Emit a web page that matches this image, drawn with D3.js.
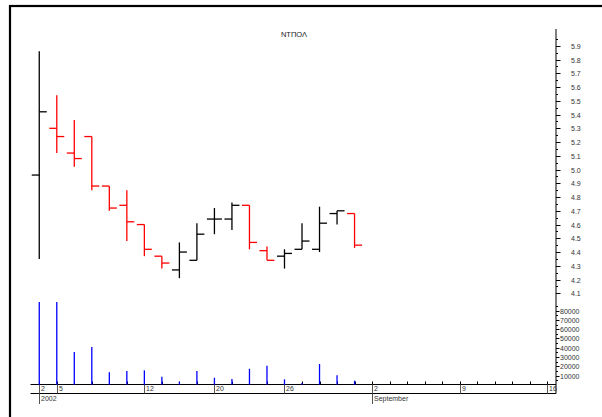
<!DOCTYPE html>
<html>
<head>
<meta charset="utf-8">
<script src="https://cdn.jsdelivr.net/npm/d3@7"></script>
<style>
  html, body { margin: 0; padding: 0; background: #fff; }
  svg { display: block; }
  text { font-family: "Liberation Sans", Arial, sans-serif; }
</style>
</head>
<body>
<svg id="chart" width="602" height="417"></svg>
<script>
// ---- Data ----
const title = "ΝΤΠΟΛ";
const dates = ["2002-08-02","2002-08-05","2002-08-06","2002-08-07","2002-08-08","2002-08-09",
  "2002-08-12","2002-08-13","2002-08-14","2002-08-16","2002-08-20","2002-08-21","2002-08-22",
  "2002-08-23","2002-08-26","2002-08-27","2002-08-28","2002-08-29","2002-08-30"];
const open  = [4.96,5.30,5.12,5.24,4.88,4.74,4.60,4.37,4.27,4.34,4.64,4.64,4.74,4.41,4.37,4.42,4.42,4.68,4.68];
const high  = [5.86,5.54,5.36,5.24,4.88,4.85,4.60,4.37,4.47,4.61,4.72,4.76,4.74,4.44,4.42,4.61,4.73,4.70,4.68];
const low   = [4.35,5.12,5.02,4.85,4.70,4.48,4.37,4.28,4.21,4.34,4.53,4.56,4.42,4.34,4.28,4.42,4.40,4.60,4.43];
const close = [5.42,5.24,5.08,4.88,4.72,4.62,4.42,4.32,4.40,4.53,4.64,4.74,4.47,4.34,4.39,4.48,4.61,4.70,4.45];
const volume = [89500,89500,35300,40700,13500,14900,15600,8700,3300,14900,7600,6200,17300,20600,5900,1900,22400,10200,4400];
// x-axis: trading-day slots (index), labels at week starts
const dayLabels = [{i:0,t:"2"},{i:1,t:"5"},{i:6,t:"12"},{i:10,t:"20"},{i:14,t:"26"},{i:19,t:"2"},{i:24,t:"9"},{i:29,t:"16"}];
const periodLabels = [{i:0,t:"2002"},{i:19,t:"September"}];
const nSlots = 30;
const priceTicks = [4.1,4.2,4.3,4.4,4.5,4.6,4.7,4.8,4.9,5.0,5.1,5.2,5.3,5.4,5.5,5.6,5.7,5.8,5.9];
const volTicks = [10000,20000,30000,40000,50000,60000,70000,80000];

// ---- Chart ----
const svg = d3.select("#chart");
const axisX0 = 30.5, axisX1 = 556;
const axisY = 384.5, axisY2 = 393.5;

const x = d3.scaleLinear().domain([-0.5, nSlots - 0.5]).range([axisX0, axisX1]);
const y = d3.scaleLinear().domain([4.1, 5.9]).range([293.3, 45.8]);
const yv = d3.scaleLinear().domain([0, 80000]).range([384.8, 310.7]);

// frame
svg.append("rect").attr("x", 10).attr("y", 6).attr("width", 620).attr("height", 440)
  .attr("fill", "none").attr("stroke", "#000").attr("stroke-width", 2.2);

// title
svg.append("text").attr("x", 294).attr("y", 37).attr("text-anchor", "middle")
  .attr("font-size", 7.5).attr("fill", "#222").text(title);

// right axis line
svg.append("line").attr("x1", axisX1).attr("x2", axisX1).attr("y1", 29).attr("y2", axisY2)
  .attr("stroke", "#000").attr("stroke-width", 1);

// price ticks
const pMinor = d3.range(4.15, 5.96, 0.1);
svg.append("g").selectAll("line").data(pMinor).join("line")
  .attr("x1", axisX1).attr("x2", axisX1 + 2)
  .attr("y1", d => Math.round(y(d)) + 0.5).attr("y2", d => Math.round(y(d)) + 0.5)
  .attr("stroke", "#000");
const pg = svg.append("g").selectAll("g").data(priceTicks).join("g")
  .attr("transform", d => `translate(0,${Math.round(y(d)) + 0.5})`);
pg.append("line").attr("x1", axisX1).attr("x2", axisX1 + 4.5).attr("stroke", "#000");
pg.append("text").attr("x", 571).attr("dy", "0.33em").attr("font-size", 7).attr("fill", "#333")
  .text(d => d.toFixed(1));

// volume ticks
const vMinor = d3.range(5000, 90001, 10000);
svg.append("g").selectAll("line").data(vMinor).join("line")
  .attr("x1", axisX1).attr("x2", axisX1 + 2)
  .attr("y1", d => Math.round(yv(d)) + 0.5).attr("y2", d => Math.round(yv(d)) + 0.5)
  .attr("stroke", "#000");
const vg = svg.append("g").selectAll("g").data(volTicks).join("g")
  .attr("transform", d => `translate(0,${Math.round(yv(d)) + 0.5})`);
vg.append("line").attr("x1", axisX1).attr("x2", axisX1 + 3.5).attr("stroke", "#000");
vg.append("text").attr("x", 560).attr("dy", "0.33em").attr("font-size", 7).attr("fill", "#333")
  .text(d => d);

// x axis lines
svg.append("line").attr("x1", axisX0).attr("x2", axisX1).attr("y1", axisY).attr("y2", axisY).attr("stroke", "#000");
svg.append("line").attr("x1", axisX0).attr("x2", axisX1).attr("y1", axisY2).attr("y2", axisY2).attr("stroke", "#000");

// day minor ticks
svg.append("g").selectAll("line").data(d3.range(nSlots)).join("line")
  .attr("x1", d => Math.round(x(d)) + 0.5).attr("x2", d => Math.round(x(d)) + 0.5)
  .attr("y1", axisY - 3).attr("y2", axisY).attr("stroke", "#000");

// day labels
const dl = svg.append("g").selectAll("g").data(dayLabels).join("g")
  .attr("transform", d => `translate(${Math.round(x(d.i)) + 0.5},0)`);
dl.append("line").attr("y1", axisY).attr("y2", axisY2).attr("stroke", "#555");
dl.append("text").attr("x", 1.5).attr("y", 391.3).attr("font-size", 7).attr("fill", "#333").text(d => d.t);

// period labels
const pl = svg.append("g").selectAll("g").data(periodLabels).join("g")
  .attr("transform", d => `translate(${Math.round(x(d.i)) + 0.5},0)`);
pl.append("line").attr("y1", axisY2).attr("y2", 404).attr("stroke", "#555");
pl.append("text").attr("x", 1.5).attr("y", 400.8).attr("font-size", 7).attr("fill", "#333").text(d => d.t);

// volume bars
svg.append("g").selectAll("line").data(volume).join("line")
  .attr("x1", (d, i) => x(i)).attr("x2", (d, i) => x(i))
  .attr("y1", yv(0)).attr("y2", d => yv(d))
  .attr("stroke", "#0000ff").attr("stroke-width", 1.3);

// OHLC bars
const bars = d3.range(dates.length).map(i => ({i, o: open[i], h: high[i], l: low[i], c: close[i]}));
const bg = svg.append("g").selectAll("g").data(bars).join("g")
  .attr("stroke", d => d.c < d.o ? "#ff0000" : "#000")
  .attr("stroke-width", 1.3);
bg.append("line").attr("x1", d => x(d.i)).attr("x2", d => x(d.i))
  .attr("y1", d => y(d.h)).attr("y2", d => y(d.l));
bg.append("line").attr("x1", d => x(d.i) - 7.5).attr("x2", d => x(d.i))
  .attr("y1", d => y(d.o)).attr("y2", d => y(d.o));
bg.append("line").attr("x1", d => x(d.i)).attr("x2", d => x(d.i) + 7.5)
  .attr("y1", d => y(d.c)).attr("y2", d => y(d.c));
</script>
</body>
</html>
